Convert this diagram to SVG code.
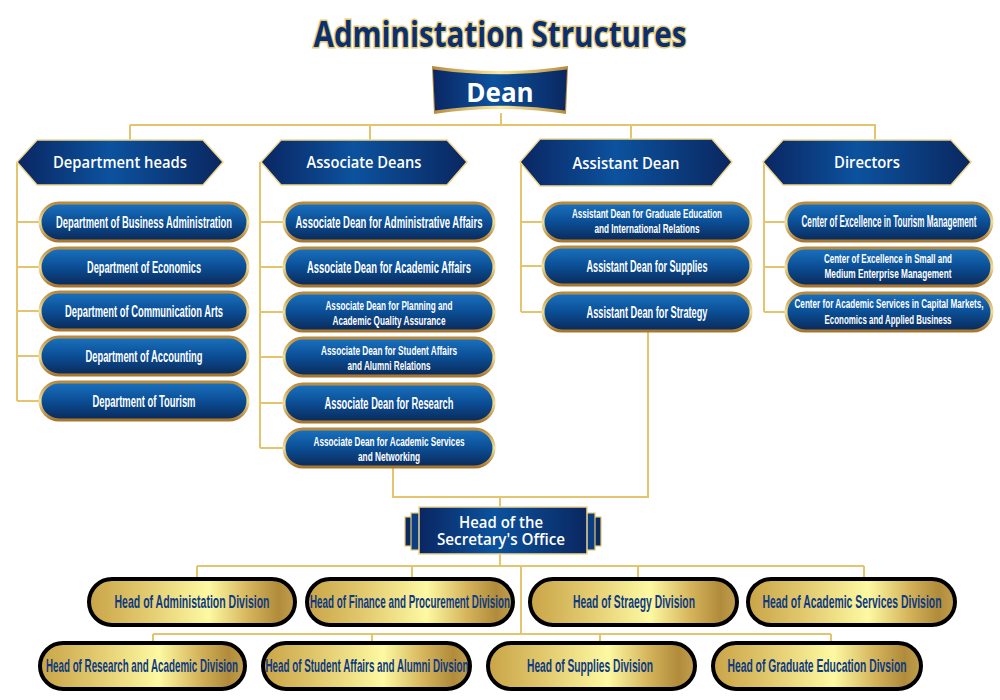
<svg xmlns="http://www.w3.org/2000/svg" width="1000" height="700" viewBox="0 0 1000 700">
<defs>
<linearGradient id="pillBlue" x1="0" y1="0" x2="0" y2="1">
<stop offset="0" stop-color="#1a72c0"/><stop offset="0.5" stop-color="#0b4e95"/><stop offset="1" stop-color="#0a2958"/>
</linearGradient>
<linearGradient id="goldStroke" x1="0" y1="0" x2="0" y2="1">
<stop offset="0" stop-color="#b98a3c"/><stop offset="0.5" stop-color="#f3df98"/><stop offset="1" stop-color="#a8762c"/>
</linearGradient>
<linearGradient id="hexBlue" x1="0" y1="0" x2="1" y2="0">
<stop offset="0" stop-color="#0a2662"/><stop offset="0.45" stop-color="#0c529e"/><stop offset="1" stop-color="#0a2760"/>
</linearGradient>
<linearGradient id="goldFill" x1="0" y1="0" x2="1" y2="0">
<stop offset="0" stop-color="#c9a447"/><stop offset="0.3" stop-color="#e4cd72"/><stop offset="0.58" stop-color="#fdf9a2"/><stop offset="0.78" stop-color="#d4b35a"/><stop offset="0.92" stop-color="#b08b3b"/><stop offset="1" stop-color="#c2a04e"/>
</linearGradient>
<linearGradient id="goldBand" x1="0" y1="0" x2="1" y2="0">
<stop offset="0" stop-color="#b58a3a"/><stop offset="0.5" stop-color="#fbeaa2"/><stop offset="1" stop-color="#b58a3a"/>
</linearGradient>
</defs>
<style>
.ln{fill:none;stroke:#e4c56e;stroke-width:2}
.hex{fill:url(#hexBlue);stroke:#f0d78e;stroke-width:1.5}
.hext{font-family:"Open Sans","Liberation Sans",sans-serif;font-weight:600;font-size:17px;fill:#ffffff;text-anchor:middle}
.bp{fill:url(#pillBlue);stroke:url(#goldStroke);stroke-width:3}
.bt{font-family:"Liberation Sans",sans-serif;font-weight:700;font-size:16px;fill:#ffffff;text-anchor:middle}
.bt2{font-family:"Liberation Sans",sans-serif;font-weight:700;font-size:13px;fill:#ffffff;text-anchor:middle}
.gp{fill:url(#goldFill);stroke:#000000;stroke-width:4}
.gt{font-family:"Liberation Sans",sans-serif;font-weight:700;font-size:18.5px;fill:#0d3a80;text-anchor:middle}
</style>

<text x="500" y="47" font-family="Open Sans, Liberation Sans, sans-serif" font-weight="700" font-size="36" fill="#0c2f6e" stroke="#e6c872" stroke-width="3" paint-order="stroke" text-anchor="middle" textLength="373" lengthAdjust="spacingAndGlyphs">Administation Structures</text>

<g id="connectors">
<path class="ln" d="M501,113 V125 M130,125 H876 M130,125 V140 M370,125 V140 M631,125 V140 M875,125 V140"/>
<path class="ln" d="M17,162 V401 M17,222 H40 M17,267 H40 M17,311 H40 M17,356 H40 M17,401 H40"/>
<path class="ln" d="M260,162 V448 M260,222 H284 M260,267 H284 M260,312 H284 M260,357 H284 M260,403 H284 M260,448 H284"/>
<path class="ln" d="M521,162 V312 M521,222 H543 M521,266 H543 M521,312 H543"/>
<path class="ln" d="M764,162 V312 M764,222 H786 M764,267 H786 M764,312 H786"/>
<path class="ln" d="M393,467 V497 H648 V330 M500,497 V507"/>
<path class="ln" d="M500,554 V566 M197,566 H864 M197,566 V579 M412,566 V579 M638,566 V579 M864,566 V579"/>
<path class="ln" d="M521,566 V634 M153,634 H831 M153,634 V643 M372,634 V643 M600,634 V643 M831,634 V643"/>
</g>

<g id="dean">
<path d="M432,66 Q500,76 568,66 L566,114 Q500,104 434,114 Z" fill="url(#goldBand)"/>
<path d="M433,69.5 Q500,79 567,69.5 L565,110.5 Q500,101 435,110.5 Z" fill="url(#hexBlue)"/>
<text x="500" y="102" font-family="Open Sans, Liberation Sans, sans-serif" font-weight="700" font-size="26" fill="#ffffff" text-anchor="middle">Dean</text>
</g>

<g id="department-heads">
<polygon class="hex" points="17,162 37,140 203,140 223,162 203,185 37,185"/>
<text class="hext" x="120" y="168" textLength="134" lengthAdjust="spacingAndGlyphs">Department heads</text>
</g>
<g id="dept-business">
<rect class="bp" x="40" y="203" width="208" height="38" rx="19"/>
<text class="bt" x="144" y="228" textLength="176" lengthAdjust="spacingAndGlyphs">Department of Business Administration</text>
</g>
<g id="dept-economics">
<rect class="bp" x="40" y="248" width="208" height="38" rx="19"/>
<text class="bt" x="144" y="273" textLength="114" lengthAdjust="spacingAndGlyphs">Department of Economics</text>
</g>
<g id="dept-communication">
<rect class="bp" x="40" y="292" width="208" height="38" rx="19"/>
<text class="bt" x="144" y="317" textLength="158" lengthAdjust="spacingAndGlyphs">Department of Communication Arts</text>
</g>
<g id="dept-accounting">
<rect class="bp" x="40" y="337" width="208" height="38" rx="19"/>
<text class="bt" x="144" y="362" textLength="117" lengthAdjust="spacingAndGlyphs">Department of Accounting</text>
</g>
<g id="dept-tourism">
<rect class="bp" x="40" y="382" width="208" height="38" rx="19"/>
<text class="bt" x="144" y="407" textLength="103" lengthAdjust="spacingAndGlyphs">Department of Tourism</text>
</g>

<g id="associate-deans">
<polygon class="hex" points="261,162 281,140 447,140 467,162 447,185 281,185"/>
<text class="hext" x="364" y="168" textLength="115" lengthAdjust="spacingAndGlyphs">Associate Deans</text>
</g>
<g id="assoc-admin">
<rect class="bp" x="284" y="203" width="210" height="38" rx="19"/>
<text class="bt" x="389" y="228" textLength="187" lengthAdjust="spacingAndGlyphs">Associate Dean for Administrative Affairs</text>
</g>
<g id="assoc-academic">
<rect class="bp" x="284" y="248" width="210" height="38" rx="19"/>
<text class="bt" x="389" y="273" textLength="164" lengthAdjust="spacingAndGlyphs">Associate Dean for Academic Affairs</text>
</g>
<g id="assoc-planning">
<rect class="bp" x="284" y="293" width="210" height="38" rx="19"/>
<text class="bt2" x="389" y="310" textLength="127" lengthAdjust="spacingAndGlyphs">Associate Dean for Planning and</text>
<text class="bt2" x="389" y="325" textLength="113" lengthAdjust="spacingAndGlyphs">Academic Quality Assurance</text>
</g>
<g id="assoc-student">
<rect class="bp" x="284" y="338" width="210" height="38" rx="19"/>
<text class="bt2" x="389" y="355" textLength="136" lengthAdjust="spacingAndGlyphs">Associate Dean for Student Affairs</text>
<text class="bt2" x="389" y="370" textLength="83" lengthAdjust="spacingAndGlyphs">and Alumni Relations</text>
</g>
<g id="assoc-research">
<rect class="bp" x="284" y="384" width="210" height="38" rx="19"/>
<text class="bt" x="389" y="409" textLength="129" lengthAdjust="spacingAndGlyphs">Associate Dean for Research</text>
</g>
<g id="assoc-services">
<rect class="bp" x="284" y="429" width="210" height="38" rx="19"/>
<text class="bt2" x="389" y="446" textLength="151" lengthAdjust="spacingAndGlyphs">Associate Dean for Academic Services</text>
<text class="bt2" x="389" y="461" textLength="62" lengthAdjust="spacingAndGlyphs">and Networking</text>
</g>

<g id="assistant-dean">
<polygon class="hex" points="520,162 540,139 712,139 732,162 712,186 540,186"/>
<text class="hext" x="626" y="169" textLength="107" lengthAdjust="spacingAndGlyphs">Assistant Dean</text>
</g>
<g id="asst-graduate">
<rect class="bp" x="543" y="203" width="208" height="38" rx="19"/>
<text class="bt2" x="647" y="218" textLength="150" lengthAdjust="spacingAndGlyphs">Assistant Dean for Graduate Education</text>
<text class="bt2" x="647" y="233" textLength="105" lengthAdjust="spacingAndGlyphs">and International Relations</text>
</g>
<g id="asst-supplies">
<rect class="bp" x="543" y="247" width="208" height="38" rx="19"/>
<text class="bt" x="647" y="272" textLength="121" lengthAdjust="spacingAndGlyphs">Assistant Dean for Supplies</text>
</g>
<g id="asst-strategy">
<rect class="bp" x="543" y="293" width="208" height="38" rx="19"/>
<text class="bt" x="647" y="318" textLength="121" lengthAdjust="spacingAndGlyphs">Assistant Dean for Strategy</text>
</g>

<g id="directors">
<polygon class="hex" points="763,162 783,140 951,140 971,162 951,185 783,185"/>
<text class="hext" x="867" y="168" textLength="66" lengthAdjust="spacingAndGlyphs">Directors</text>
</g>
<g id="dir-tourism">
<rect class="bp" x="786" y="203" width="206" height="38" rx="19"/>
<text class="bt" x="889" y="227" textLength="175" lengthAdjust="spacingAndGlyphs">Center of Excellence in Tourism Management</text>
</g>
<g id="dir-sme">
<rect class="bp" x="786" y="248" width="206" height="38" rx="19"/>
<text class="bt2" x="888" y="263" textLength="128" lengthAdjust="spacingAndGlyphs">Center of Excellence in Small and</text>
<text class="bt2" x="888" y="278" textLength="127" lengthAdjust="spacingAndGlyphs">Medium Enterprise Management</text>
</g>
<g id="dir-capital">
<rect class="bp" x="786" y="293" width="206" height="38" rx="19"/>
<text class="bt2" x="889" y="308" textLength="189" lengthAdjust="spacingAndGlyphs">Center for Academic Services in Capital Markets,</text>
<text class="bt2" x="888" y="324" textLength="127" lengthAdjust="spacingAndGlyphs">Economics and Applied Business</text>
</g>

<g id="head-secretary">
<rect x="405" y="517" width="8" height="29" fill="#0a2a62" stroke="#e6c872" stroke-width="1.2"/>
<rect x="411" y="513" width="9" height="37" fill="#0b3f82" stroke="#e6c872" stroke-width="1.2"/>
<rect x="593" y="517" width="8" height="29" fill="#0a2a62" stroke="#e6c872" stroke-width="1.2"/>
<rect x="586" y="513" width="9" height="37" fill="#0b3f82" stroke="#e6c872" stroke-width="1.2"/>
<rect x="419" y="507" width="168" height="47" fill="url(#hexBlue)" stroke="#f0d78e" stroke-width="1.5"/>
<text x="501" y="528" font-family="Open Sans, Liberation Sans, sans-serif" font-weight="600" font-size="17" fill="#ffffff" text-anchor="middle" textLength="84" lengthAdjust="spacingAndGlyphs">Head of the</text>
<text x="501" y="545" font-family="Open Sans, Liberation Sans, sans-serif" font-weight="600" font-size="17" fill="#ffffff" text-anchor="middle" textLength="128" lengthAdjust="spacingAndGlyphs">Secretary's Office</text>
</g>

<g id="div-administration">
<rect class="gp" x="89" y="579" width="206" height="46" rx="23"/>
<text class="gt" x="192" y="608" textLength="155" lengthAdjust="spacingAndGlyphs">Head of Administation Division</text>
</g>
<g id="div-finance">
<rect class="gp" x="307" y="579" width="206" height="46" rx="23"/>
<text class="gt" x="410" y="608" textLength="200" lengthAdjust="spacingAndGlyphs">Head of Finance and Procurement Division</text>
</g>
<g id="div-strategy">
<rect class="gp" x="530" y="579" width="207" height="46" rx="23"/>
<text class="gt" x="634" y="608" textLength="122" lengthAdjust="spacingAndGlyphs">Head of Straegy Division</text>
</g>
<g id="div-academic-services">
<rect class="gp" x="748" y="579" width="207" height="46" rx="23"/>
<text class="gt" x="852" y="608" textLength="179" lengthAdjust="spacingAndGlyphs">Head of Academic Services Division</text>
</g>
<g id="div-research">
<rect class="gp" x="40" y="643" width="205" height="46" rx="23"/>
<text class="gt" x="142" y="672" textLength="192" lengthAdjust="spacingAndGlyphs">Head of Research and Academic Division</text>
</g>
<g id="div-student">
<rect class="gp" x="263" y="643" width="207" height="46" rx="23"/>
<text class="gt" x="367" y="672" textLength="203" lengthAdjust="spacingAndGlyphs">Head of Student Affairs and Alumni Divsion</text>
</g>
<g id="div-supplies">
<rect class="gp" x="488" y="643" width="207" height="46" rx="23"/>
<text class="gt" x="590" y="672" textLength="126" lengthAdjust="spacingAndGlyphs">Head of Supplies Division</text>
</g>
<g id="div-graduate">
<rect class="gp" x="713" y="643" width="208" height="46" rx="23"/>
<text class="gt" x="817" y="672" textLength="179" lengthAdjust="spacingAndGlyphs">Head of Graduate Education Divsion</text>
</g>
</svg>
